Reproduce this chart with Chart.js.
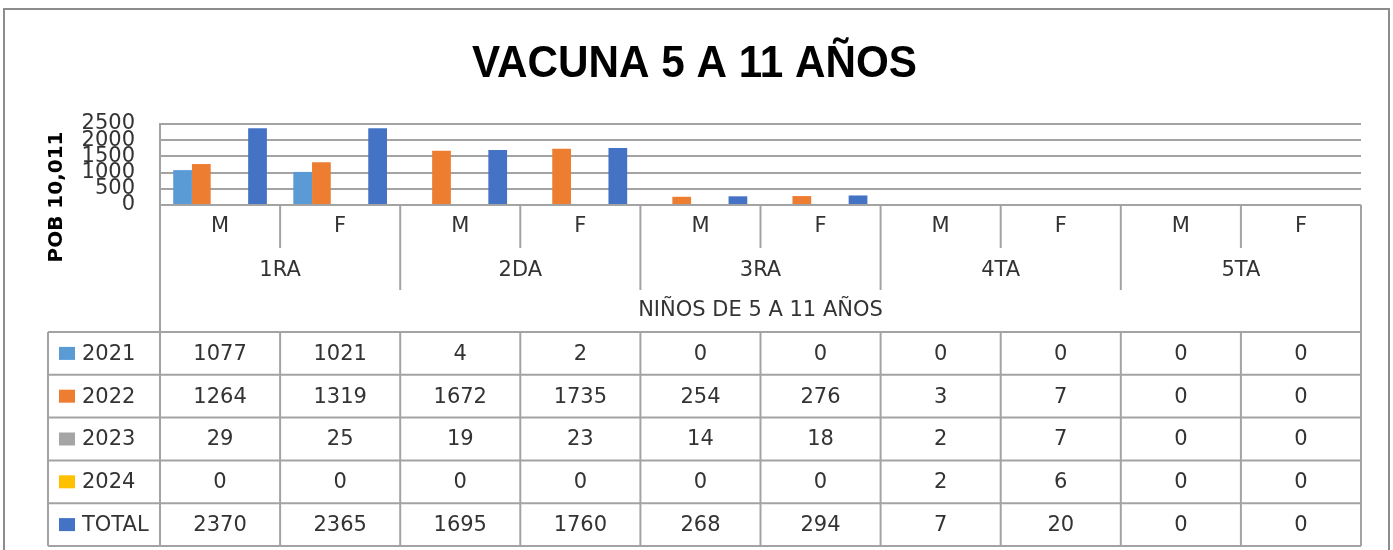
<!DOCTYPE html>
<html>
<head>
<meta charset="utf-8">
<script src="https://cdn.jsdelivr.net/npm/chart.js@4/dist/chart.umd.min.js"></script>
<style>
html,body{margin:0;padding:0;background:#fff;}
#wrap{width:1393px;height:550px;position:relative;}
</style>
</head>
<body>
<div id="wrap"><canvas id="c" width="1393" height="550"></canvas></div>
<script>
// ---- data ----
const title = 'VACUNA 5 A 11 AÑOS';
const yTitle = 'POB 10,011';
const xTitle = 'NIÑOS DE 5 A 11 AÑOS';
const grades = ['1RA', '2DA', '3RA', '4TA', '5TA'];
const sexes = ['M', 'F'];
const categories = ['M', 'F', 'M', 'F', 'M', 'F', 'M', 'F', 'M', 'F'];
const seriesNames = ['2021', '2022', '2023', '2024', 'TOTAL'];
const s2021 = [1077, 1021, 4, 2, 0, 0, 0, 0, 0, 0];
const s2022 = [1264, 1319, 1672, 1735, 254, 276, 3, 7, 0, 0];
const s2023 = [29, 25, 19, 23, 14, 18, 2, 7, 0, 0];
const s2024 = [0, 0, 0, 0, 0, 0, 2, 6, 0, 0];
const sTotal = [2370, 2365, 1695, 1760, 268, 294, 7, 20, 0, 0];
const yTicks = [0, 500, 1000, 1500, 2000, 2500];
const colors = ['#5B9BD5', '#ED7D31', '#A5A5A5', '#FFC000', '#4472C4'];

const seriesData = [s2021, s2022, s2023, s2024, sTotal];
const LINE = '#a3a3a3';
const TXT = '#333333';
const FONT = '"DejaVu Sans", sans-serif';

const tablePlugin = {
  id: 'tablePlugin',
  beforeDraw(chart) {
    const ctx = chart.ctx;
    ctx.save();
    ctx.fillStyle = '#fff';
    ctx.fillRect(0, 0, chart.width, chart.height);
    ctx.restore();
  },
  afterDraw(chart) {
    const ctx = chart.ctx;
    const xs = chart.scales.x;
    const n = categories.length;
    const cw = (xs.right - xs.left) / n;
    const bx = i => xs.left + i * cw;
    const axisY = chart.chartArea.bottom;
    const tableTop = 332;
    const rowH = 42.8;
    const tableLeft = 48;
    const tableBottom = tableTop + rowH * seriesNames.length;
    ctx.save();
    // outer frame
    ctx.strokeStyle = '#8c8c8c';
    ctx.lineWidth = 2;
    ctx.strokeRect(4, 9, 1385, 600);
    // title
    ctx.fillStyle = '#000';
    ctx.font = 'bold 44px "Liberation Sans", Arial, sans-serif';
    ctx.textAlign = 'center';
    ctx.textBaseline = 'alphabetic';
    ctx.fillText(title, 694.5, 77, 445);
    // y title
    ctx.save();
    ctx.translate(57, 197);
    ctx.rotate(-Math.PI / 2);
    ctx.font = 'bold 20px ' + FONT;
    ctx.textBaseline = 'middle';
    ctx.fillText(yTitle, 0, 0);
    ctx.restore();

    // lines
    ctx.strokeStyle = LINE;
    ctx.lineWidth = 2;
    const line = (x1, y1, x2, y2) => { ctx.beginPath(); ctx.moveTo(x1, y1); ctx.lineTo(x2, y2); ctx.stroke(); };
    line(xs.left, axisY, xs.right, axisY);
    line(xs.left, chart.chartArea.top, xs.left, tableBottom);
    line(xs.right, axisY, xs.right, tableBottom);
    for (let i = 1; i < n; i++) {
      const x = bx(i);
      line(x, axisY, x, i % 2 === 0 ? 290 : 248);
      line(x, tableTop, x, tableBottom);
    }
    for (let r = 0; r <= seriesNames.length; r++) {
      const y = tableTop + r * rowH;
      line(tableLeft, y, xs.right, y);
    }
    line(tableLeft, tableTop, tableLeft, tableBottom);

    // axis labels
    ctx.fillStyle = TXT;
    ctx.font = '21px ' + FONT;
    ctx.textAlign = 'center';
    ctx.textBaseline = 'middle';
    for (let i = 0; i < n; i++) {
      ctx.fillText(categories[i], xs.getPixelForValue(i), 227);
    }
    for (let g = 0; g < grades.length; g++) {
      ctx.fillText(grades[g], bx(g * 2 + 1), 271);
    }
    ctx.fillText(xTitle, (xs.left + xs.right) / 2, 311);

    // table
    for (let r = 0; r < seriesNames.length; r++) {
      const cy = tableTop + r * rowH + rowH / 2;
      ctx.fillStyle = colors[r];
      ctx.fillRect(59, cy - 6.5, 16, 13);
      ctx.fillStyle = TXT;
      ctx.textAlign = 'left';
      ctx.fillText(seriesNames[r], 82, cy + 1);
      ctx.textAlign = 'center';
      for (let i = 0; i < n; i++) {
        ctx.fillText(String(seriesData[r][i]), xs.getPixelForValue(i), cy + 1);
      }
    }
    ctx.restore();
  }
};

new Chart(document.getElementById('c'), {
  type: 'bar',
  data: {
    labels: categories,
    datasets: seriesNames.map((name, k) => ({
      label: name,
      data: seriesData[k],
      backgroundColor: colors[k],
      borderWidth: 0,
      categoryPercentage: 0.78,
      barPercentage: 1.0
    }))
  },
  options: {
    responsive: false,
    devicePixelRatio: 1,
    animation: false,
    layout: { padding: { left: 0, top: 124, right: 32, bottom: 345 } },
    plugins: { legend: { display: false }, title: { display: false }, tooltip: { enabled: false } },
    scales: {
      x: { display: false },
      y: {
        min: 0, max: 2500,
        afterFit(scale) { scale.width = 160; },
        afterBuildTicks(scale) { scale.ticks = yTicks.map(v => ({ value: v })); },
        ticks: {
          autoSkip: false,
          padding: 25, color: TXT, font: { family: 'DejaVu Sans', size: 21 },
          callback: v => String(v)
        },
        grid: { color: LINE, lineWidth: 2, drawTicks: false },
        border: { display: true, color: LINE, width: 2 }
      }
    }
  },
  plugins: [tablePlugin]
});
</script>
</body>
</html>
